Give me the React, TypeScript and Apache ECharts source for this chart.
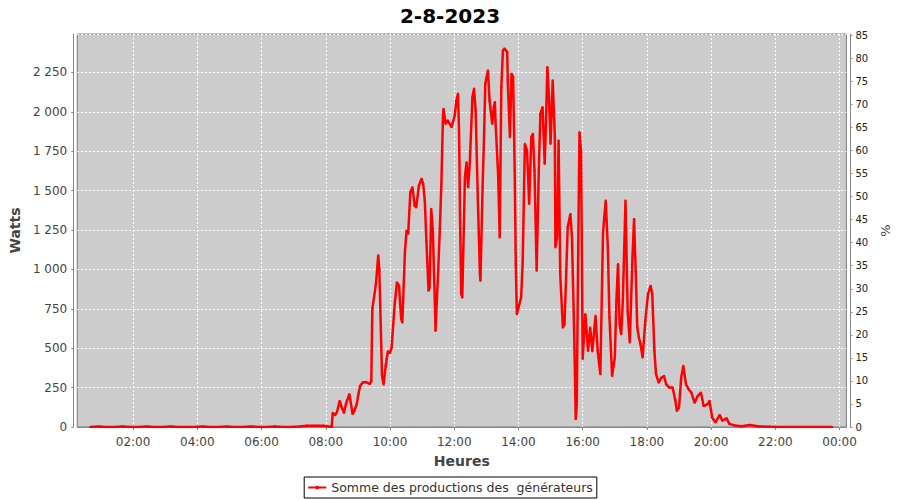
import React, { useEffect, useRef } from "react";
import * as echarts from "echarts";

const chartTitle = "2-8-2023";
const seriesName = "Somme des productions des  générateurs";

const times: string[] = [
  "00:40","00:55","01:10","01:25","01:40","01:55","02:10","02:25","02:40","02:55",
  "03:10","03:25","03:40","03:55","04:10","04:25","04:40","04:55","05:10","05:25",
  "05:40","05:55","06:10","06:25","06:40","06:55","07:10","07:25","07:40","07:55",
  "08:05","08:11",
  "08:13","08:17","08:21","08:26","08:30","08:34","08:38","08:44","08:47","08:50",
  "08:53","08:58","09:01","09:04","09:09","09:15","09:22","09:25","09:27","09:32",
  "09:34","09:38","09:40","09:43","09:45","09:48","09:52","09:56","10:00","10:03",
  "10:06","10:09","10:13","10:17","10:19","10:21","10:23","10:28","10:31","10:34",
  "10:38","10:42","10:46","10:49","10:54","10:59","11:02","11:05","11:08","11:12",
  "11:14","11:17","11:20","11:24","11:25","11:30","11:33","11:36","11:39","11:40",
  "11:44","11:48","11:55","12:01","12:04","12:07","12:09","12:11","12:13","12:15",
  "12:20","12:23","12:26","12:29","12:34","12:37","12:40","12:44","12:48","12:49",
  "12:53","12:56","12:58","13:03","13:06","13:11","13:14","13:16","13:17","13:22",
  "13:25","13:28","13:31","13:34","13:39","13:40","13:44","13:47","13:50","13:53",
  "13:55","13:57","14:00","14:05","14:08","14:12","14:16","14:20","14:24","14:27",
  "14:30","14:34","14:38","14:41","14:45","14:49","14:51","14:54","14:57","15:00",
  "15:04","15:08","15:09","15:12","15:15","15:18","15:23","15:26","15:29","15:32",
  "15:37","15:40","15:44","15:47","15:49","15:51","15:54","15:57","16:00","16:05",
  "16:10","16:14","16:18","16:24","16:28","16:33","16:38","16:43","16:47","16:50",
  "16:55","17:00","17:03","17:06","17:09","17:12","17:15","17:20","17:24","17:28",
  "17:33","17:36","17:39","17:42","17:45","17:48","17:52","17:57","18:02","18:07",
  "18:10","18:14","18:17","18:22","18:27","18:32","18:36","18:42","18:48","18:53",
  "18:56","19:00","19:04","19:08","19:13","19:18","19:23","19:29","19:35","19:41",
  "19:46","19:53","19:57","20:02","20:08","20:16","20:21","20:29","20:34","20:44",
  "20:57","21:12","21:30","21:49","22:05","22:20","22:35","22:50","23:05","23:20",
  "23:35","23:46"
];

const watts: number[] = [
  0,3,0,0,3,0,0,3,0,0,
  3,0,0,0,3,0,0,3,0,0,
  3,0,0,3,0,0,3,8,8,8,
  3,0,
  90,75,95,165,123,90,150,208,150,83,
  100,146,210,260,282,285,273,290,750,865,
  920,1090,1000,610,325,270,390,480,470,504,
  650,790,917,896,780,686,663,1119,1246,1227,
  1490,1521,1405,1394,1532,1575,1543,1437,1182,865,
  885,1384,1246,758,610,992,1246,1543,1977,2019,
  1924,1945,1903,1977,2072,2115,1882,1300,844,822,
  1585,1680,1521,1670,2093,2147,2009,1458,971,928,
  1521,1882,2178,2263,2072,1924,2030,2062,1945,1606,
  1203,2157,2390,2401,2380,2200,1839,2242,2221,1627,
  1034,716,758,822,1055,1797,1755,1416,1839,1861,
  1627,992,1627,1988,2030,1670,1882,2284,2093,1797,
  2200,1839,1140,1203,1818,971,631,653,949,1267,
  1352,1203,610,50,150,900,1871,1750,432,716,
  483,631,480,706,483,335,1235,1437,1140,695,
  324,441,801,1034,653,589,801,1437,737,536,
  1076,1320,992,631,568,526,441,674,844,896,
  844,483,335,282,313,324,271,250,250,170,
  102,123,313,388,271,240,218,154,197,218,
  133,144,165,59,30,76,40,55,20,10,
  5,12,3,2,0,0,0,0,0,0,
  0,0
];

// x-axis tick labels, in hours of the day (24 = midnight of the next day)
const hourTicks: number[] = [2, 4, 6, 8, 10, 12, 14, 16, 18, 20, 22, 24];

const xMinMinutes = 15.67; // 00:15:40
const xMaxMinutes = 1452.67; // 00:12:40 next day
const leftMax = 2494;
const rightMax = 85.3;

const toMinutes = (t: string) => {
  const [h, m] = t.split(":").map(Number);
  return h * 60 + m;
};

const pad = (n: number) => (n < 10 ? "0" + n : "" + n);

const fmtClock = (mins: number) => {
  const total = Math.round(mins) % 1440;
  return pad(Math.floor(total / 60)) + ":" + pad(total % 60);
};

const fmtThousands = (v: number) =>
  String(Math.round(v)).replace(/\B(?=(\d{3})+(?!\d))/g, "\u00a0");

export default function App() {
  const ref = useRef<HTMLDivElement>(null);

  useEffect(() => {
    if (!ref.current) return;
    const chart = echarts.init(ref.current, undefined, { renderer: "svg" });
    const data = times.map((t, i) => [toMinutes(t), watts[i]]);
    const tickVals = hourTicks.map((h) => h * 60);
    const gridLine = { show: true, lineStyle: { color: "#ffffff", type: [2, 2], width: 1 } };
    chart.setOption({
      animation: false,
      textStyle: { fontFamily: "DejaVu Sans" },
      backgroundColor: "#ffffff",
      title: {
        text: chartTitle,
        left: "center",
        top: 1,
        textStyle: { fontSize: 20, fontWeight: "bold", color: "#000", fontFamily: "DejaVu Sans" },
      },
      legend: {
        bottom: 2,
        left: "center",
        borderColor: "#000",
        borderWidth: 1,
        borderRadius: 0,
        padding: [4, 4, 4, 3],
        itemWidth: 18,
        itemHeight: 4,
        itemGap: 4,
        textStyle: { fontSize: 12.5, color: "#333", fontFamily: "DejaVu Sans" },
        data: [seriesName],
      },
      grid: {
        left: 77,
        right: 52,
        top: 34,
        bottom: 73,
        show: true,
        backgroundColor: "#cccccc",
        borderColor: "#7a7a7a",
        borderWidth: 1,
      },
      xAxis: {
        type: "value",
        min: xMinMinutes,
        max: xMaxMinutes,
        offset: 4,
        name: "Heures",
        nameLocation: "middle",
        nameGap: 23,
        nameTextStyle: { fontSize: 14, fontWeight: "bold", color: "#444" },
        axisLine: { show: true, lineStyle: { color: "#888", width: 1 } },
        axisTick: { show: true, length: 3, lineStyle: { color: "#888" }, customValues: tickVals },
        axisLabel: {
          fontSize: 12,
          color: "#444",
          margin: 5,
          customValues: tickVals,
          formatter: (v: number) => fmtClock(v),
        },
        splitLine: gridLine,
      },
      yAxis: [
        {
          type: "value",
          min: 0,
          max: leftMax,
          interval: 250,
          position: "left",
          offset: 4,
          name: "Watts",
          nameLocation: "middle",
          nameGap: 40,
          nameTextStyle: { fontSize: 14, fontWeight: "bold", color: "#444" },
          axisLine: { show: true, lineStyle: { color: "#888", width: 1 } },
          axisTick: { show: true, length: 2, lineStyle: { color: "#888" } },
          axisLabel: {
            fontSize: 12,
            color: "#444",
            margin: 6,
            showMaxLabel: false,
            formatter: (v: number) => fmtThousands(v),
          },
          splitLine: gridLine,
        },
        {
          type: "value",
          min: 0,
          max: rightMax,
          interval: 5,
          position: "right",
          offset: 4,
          name: "%",
          nameLocation: "middle",
          nameGap: 22,
          nameTextStyle: { fontSize: 13, color: "#444" },
          axisLine: { show: true, lineStyle: { color: "#888", width: 1 } },
          axisTick: { show: true, length: 2, lineStyle: { color: "#888" } },
          axisLabel: {
            fontSize: 10,
            color: "#222",
            margin: 5,
            showMaxLabel: false,
          },
          splitLine: { show: false },
        },
      ],
      series: [
        {
          name: seriesName,
          type: "line",
          yAxisIndex: 0,
          data,
          showSymbol: true,
          symbol: "rect",
          symbolSize: 2,
          itemStyle: { color: "#ff0000" },
          lineStyle: { color: "#ff0000", width: 2.5 },
        },
      ],
    });
    return () => chart.dispose();
  }, []);

  return (
    <div
      ref={ref}
      style={{ position: "fixed", left: 0, top: 0, width: 900, height: 500 }}
    />
  );
}
